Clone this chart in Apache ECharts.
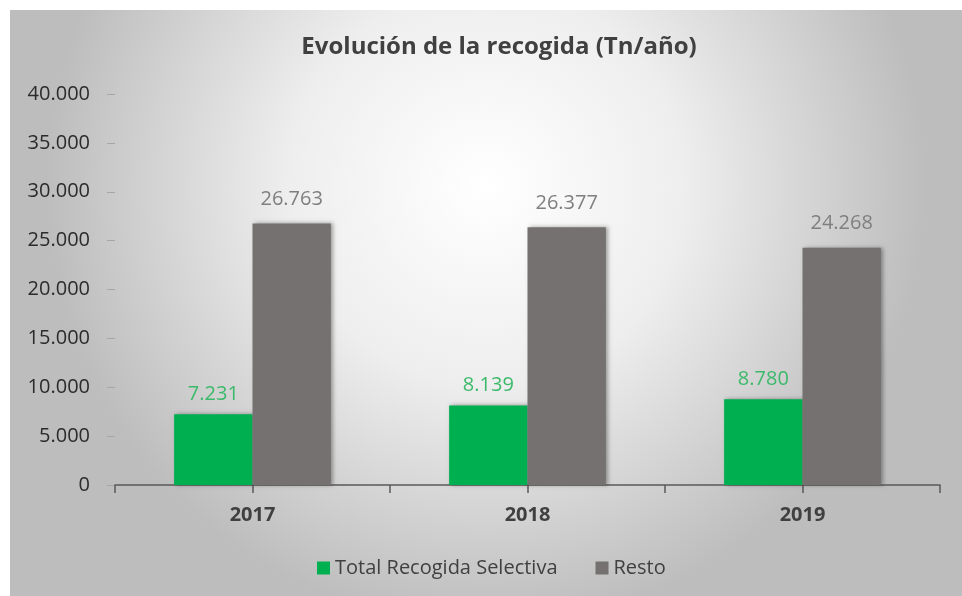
<!DOCTYPE html>
<html>
<head>
<meta charset="utf-8">
<script src="https://cdn.jsdelivr.net/npm/echarts@6/dist/echarts.min.js"></script>
<style>
    html, body { margin: 0; padding: 0; background: #fff; }
    #main { width: 962px; height: 596px; }
</style>
</head>
<body>
<div id="main"></div>
<script>
// datos
var years = ['2017', '2018', '2019'];
var selectiva = [7231, 8139, 8780];
var resto = [26763, 26377, 24268];
var seriesNames = ['Total Recogida Selectiva', 'Resto'];

// formato español: 26763 -> 26.763
function fmt(v) {
    return String(v).replace(/\B(?=(\d{3})+(?!\d))/g, '.');
}

(function () {
    var myChart = echarts.init(document.getElementById('main'));
    var font = '"Open Sans", "Noto Sans", sans-serif';

    var option = {
        animation: false,
        textStyle: { fontFamily: font },
        graphic: [
            {
                type: 'rect',
                z: -10,
                shape: { x: 10, y: 10, width: 952, height: 586 },
                style: {
                    fill: new echarts.graphic.RadialGradient(0.5, 0.3, 0.75, [
                        { offset: 0, color: '#ffffff' },
                        { offset: 0.45, color: '#eeeeee' },
                        { offset: 1, color: '#bdbdbd' }
                    ])
                }
            }
        ],
        title: {
            text: 'Evolución de la recogida (Tn/año)',
            left: 494,
            textAlign: 'center',
            top: 30,
            textStyle: {
                fontFamily: font,
                fontSize: 24,
                fontWeight: 'bold',
                color: '#404040'
            }
        },
        legend: {
            data: seriesNames,
            left: 312,
            top: 553,
            icon: 'rect',
            itemWidth: 13,
            itemHeight: 13,
            itemGap: 38,
            textStyle: {
                fontFamily: font,
                fontSize: 20,
                color: '#404040'
            }
        },
        grid: {
            left: 115,
            right: 22,
            top: 94,
            bottom: 111
        },
        xAxis: [
            {
                type: 'category',
                data: years,
                axisLine: { lineStyle: { color: '#595959', width: 1.5 } },
                axisTick: { show: false },
                axisLabel: {
                    margin: 20,
                    fontFamily: font,
                    fontSize: 20,
                    fontWeight: 'bold',
                    color: '#404040'
                }
            },
            {
                // solo para las marcas del eje (bordes y centros)
                type: 'value',
                position: 'bottom',
                min: 0,
                max: 6,
                interval: 1,
                axisLine: { show: false },
                axisTick: { show: true, length: 8, lineStyle: { color: '#595959', width: 1.5 } },
                axisLabel: { show: false },
                splitLine: { show: false }
            }
        ],
        yAxis: {
            type: 'value',
            min: 0,
            max: 40000,
            interval: 5000,
            axisLine: { show: true, lineStyle: { color: 'rgba(0,0,0,0)' } },
            axisTick: { show: true, length: 8, lineStyle: { color: '#a6a6a6' } },
            splitLine: { show: false },
            axisLabel: {
                margin: 25,
                fontFamily: font,
                fontSize: 20,
                color: '#2b2b2b',
                formatter: function (v) { return fmt(v); }
            }
        },
        series: [
            {
                name: seriesNames[0],
                type: 'bar',
                xAxisIndex: 0,
                data: selectiva,
                barGap: '0%',
                barCategoryGap: '43%',
                itemStyle: {
                    color: '#00b050',
                    shadowColor: 'rgba(0,0,0,0.35)',
                    shadowBlur: 4,
                    shadowOffsetX: 2
                },
                label: {
                    show: true,
                    position: 'top',
                    distance: 10,
                    fontFamily: font,
                    fontSize: 20,
                    color: '#3cb96a',
                    formatter: function (p) { return fmt(p.value); }
                }
            },
            {
                name: seriesNames[1],
                type: 'bar',
                xAxisIndex: 0,
                data: resto,
                itemStyle: {
                    color: '#767171',
                    shadowColor: 'rgba(0,0,0,0.35)',
                    shadowBlur: 4,
                    shadowOffsetX: 2
                },
                label: {
                    show: true,
                    position: 'top',
                    distance: 14,
                    fontFamily: font,
                    fontSize: 20,
                    color: '#7f7f7f',
                    formatter: function (p) { return fmt(p.value); }
                }
            }
        ]
    };

    myChart.setOption(option);

    window.addEventListener('resize', function () {
        myChart.resize();
    });
})();
</script>
</body>
</html>
